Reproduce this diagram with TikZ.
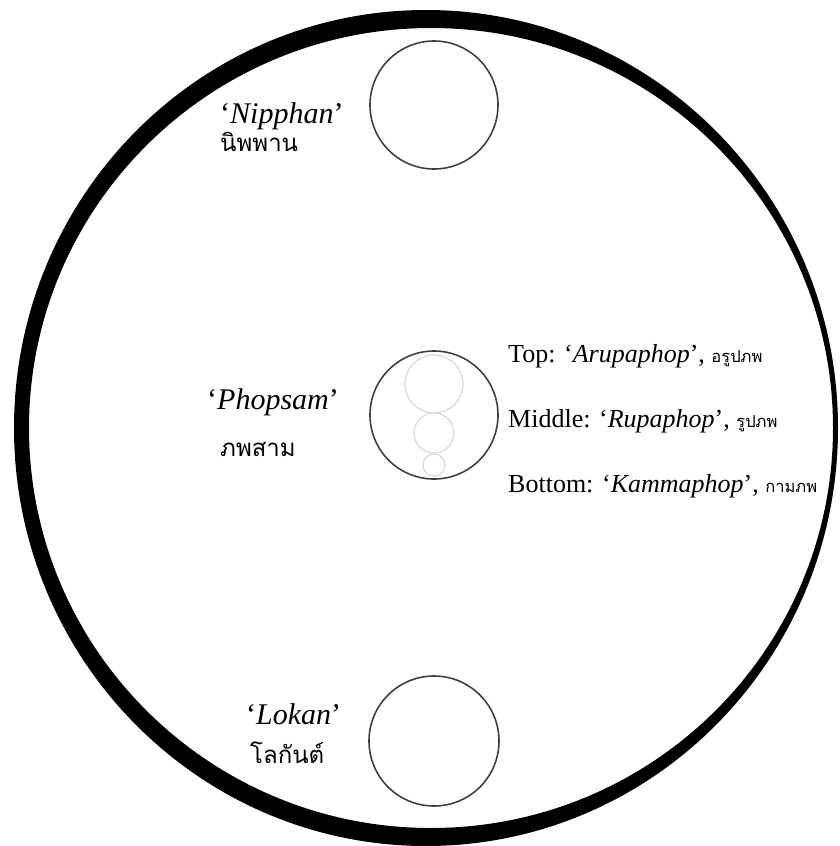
\documentclass[tikz,border=0pt]{standalone}
\usepackage{fontspec}
\setmainfont{Liberation Serif}
\newfontfamily\thaifont[Script=Thai]{Loma}
\newcommand\smallthai{\thaifont\fontsize{16.5}{18}\selectfont}

\begin{document}
\begin{tikzpicture}[
    x=1pt,y=-1pt,
    realm/.style={draw=black!75,line width=1.6pt},
    subrealm/.style={draw=black!15,line width=1.2pt},
    namelbl/.style={anchor=base west,inner sep=0pt,font=\fontsize{30}{32}\selectfont},
    thailbl/.style={anchor=base west,inner sep=0pt,font=\thaifont\fontsize{24}{28}\selectfont},
    partlbl/.style={anchor=base west,inner sep=0pt,font=\fontsize{26}{30}\selectfont}
]
    \useasboundingbox (0,0) rectangle (840,846);
    % the world
    \fill[black,even odd rule] (426,428) ellipse[x radius=412,y radius=418]
                               (431,428) ellipse[x radius=402,y radius=400];
    % the three realms
    \coordinate (nipphan) at (434,105);
    \coordinate (phopsam) at (434,415);
    \coordinate (lokan) at (434,741);
    \draw[realm] (nipphan) circle[radius=64];
    \draw[realm] (phopsam) circle[radius=64];
    \draw[realm] (lokan) circle[radius=65];
    \begin{scope}
        \clip (phopsam) circle[radius=63];
        \draw[subrealm] (434,384) circle[radius=29];
        \draw[subrealm] (434,433) circle[radius=20];
        \draw[subrealm] (434,465) circle[radius=11];
    \end{scope}
    % labels
    \node[namelbl] (nipphanname) at (220,123) {‘\textit{Nipphan}’};
    \node[thailbl] (nipphanthai) at (220,151) {นิพพาน};
    \node[namelbl] (phopsamname) at (207,409) {‘\textit{Phopsam}’};
    \node[thailbl] (phopsamthai) at (220,456) {ภพสาม};
    \node[namelbl] (lokanname) at (246,724) {‘\textit{Lokan}’};
    \node[thailbl] (lokanthai) at (250,763) {โลกันต์};
    \node[partlbl] (toplbl) at (508,362) {Top: ‘\textit{Arupaphop}’, {\smallthai อรูปภพ}};
    \node[partlbl] (midlbl) at (508,427) {Middle: ‘\textit{Rupaphop}’, {\smallthai รูปภพ}};
    \node[partlbl] (botlbl) at (508,492) {Bottom: ‘\textit{Kammaphop}’, {\smallthai กามภพ}};
\end{tikzpicture}
\end{document}
